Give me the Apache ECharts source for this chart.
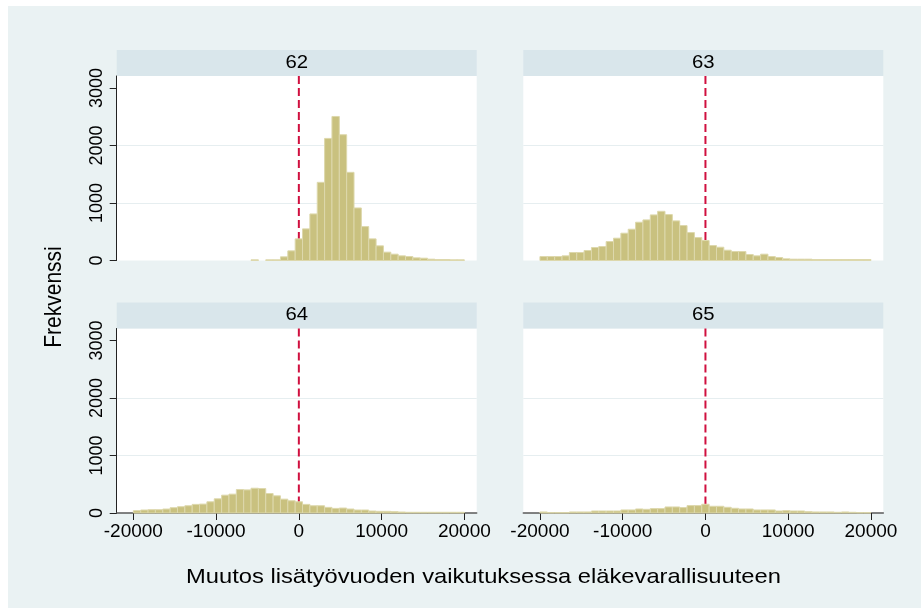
<!DOCTYPE html>
<html>
<head>
<meta charset="utf-8">
<script src="https://cdn.jsdelivr.net/npm/echarts@6/dist/echarts.min.js"></script>
<style>
html,body{margin:0;padding:0;background:#ffffff;}
#chart{width:921px;height:608px;}
</style>
</head>
<body>
<div id="chart"></div>
<script>
// ---- Data ----
const panelTitles = ['62', '63', '64', '65'];
const binStart = -20000;
const binWidth = 40000 / 45;
const xTicks = [-20000, -10000, 0, 10000, 20000];
const yTicks = [0, 1000, 2000, 3000];
const refLineX = 0;

const freq62 = [0,0,0,0,0,0,0,0,0,0,0,0,0,0,0,0,12,0,12,12,64,168,376,550,810,1360,2124,2506,2188,1534,914,590,376,255,145,110,81,69,46,40,23,17,17,12,12];
const freq63 = [69,69,69,81,139,139,174,226,243,330,388,475,544,666,706,793,856,799,689,608,486,399,347,260,231,179,156,156,104,81,110,69,52,29,23,23,23,17,17,17,17,17,17,17,17];
const freq64 = [40,52,57,57,69,92,109,126,150,155,195,247,310,328,408,402,431,425,339,299,241,213,195,150,126,126,98,80,86,69,52,52,34,29,29,23,17,12,12,12,12,12,12,12,12];
const freq65 = [18,6,6,6,18,18,18,35,35,35,35,53,53,70,64,76,76,105,105,94,129,129,152,117,117,99,82,70,70,53,53,53,35,41,35,35,23,18,18,18,12,18,12,6,6];
const allFreq = [freq62, freq63, freq64, freq65];

// ---- Layout / style ----
const FONT = "'Liberation Sans', Arial, sans-serif";
const X_MIN = -22012, X_MAX = 21492;
const Y_MAX = 3210;
const BG = '#EAF2F3';
const STRIP = '#D9E6EB';
const BAR_FILL = '#C9C17F';
const BAR_EDGE = '#DDD8AC';
const REF = '#D0103F';
const SX = 1.13;

const gridPos = [
  {left: 116.7, top: 76},
  {left: 523.3, top: 76},
  {left: 116.7, top: 328.5},
  {left: 523.3, top: 328.5}
];
const GW = 360, GH = 184.5;

const grids = [], xAxes = [], yAxes = [], series = [], graphics = [];

graphics.push({type: 'rect', shape: {x: 8, y: 6, width: 913, height: 602}, style: {fill: BG}, z: -10, silent: true});

gridPos.forEach((p, i) => {
  const isLeft = (i % 2 === 0);
  const isBottom = (i >= 2);
  grids.push({left: p.left, top: p.top, width: GW, height: GH, show: true, backgroundColor: '#ffffff', borderWidth: 0, containLabel: false});
  xAxes.push({
    type: 'value', gridIndex: i, min: X_MIN, max: X_MAX,
    show: isBottom,
    axisLine: {show: true, onZero: false, lineStyle: {color: '#5a5a5a', width: 1.5}},
    axisTick: {show: true, length: 7, lineStyle: {color: '#222', width: 1}, customValues: xTicks},
    axisLabel: {show: true, color: '#000', fontFamily: FONT, fontSize: 19, margin: 9, customValues: xTicks, formatter: v => String(v)},
    splitLine: {show: false}
  });
  yAxes.push({
    type: 'value', gridIndex: i, min: 0, max: Y_MAX, interval: 1000,
    axisLine: {show: isLeft, onZero: false, lineStyle: {color: '#222', width: 1}},
    axisTick: {show: isLeft, length: 7, inside: false, lineStyle: {color: '#222', width: 1}, customValues: yTicks},
    axisLabel: {show: isLeft, rotate: 90, color: '#000', fontFamily: FONT, fontSize: 18, margin: 11, customValues: yTicks, formatter: v => String(v)},
    splitLine: {show: true, showMinLine: false, showMaxLine: false, lineStyle: {color: '#E6EEF0', width: 1.2}}
  });
  // reference dashed line at x = 0 (behind bars)
  series.push({
    type: 'line', xAxisIndex: i, yAxisIndex: i, z: 2,
    data: [[refLineX, Y_MAX], [refLineX, 0]],
    symbol: 'none', silent: true,
    lineStyle: {color: REF, width: 2, type: [8, 4]}
  });
  const data = allFreq[i].map((v, k) => [binStart + k * binWidth, binStart + (k + 1) * binWidth, v]);
  series.push({
    type: 'custom', xAxisIndex: i, yAxisIndex: i, z: 3,
    encode: {x: [0, 1], y: 2},
    data: data,
    renderItem: function (params, api) {
      const v = api.value(2);
      if (v <= 0) return null;
      const p0 = api.coord([api.value(0), v]);
      const p1 = api.coord([api.value(1), 0]);
      return {
        type: 'rect',
        shape: {x: p0[0], y: p0[1], width: p1[0] - p0[0], height: p1[1] - p0[1]},
        style: {fill: BAR_FILL, stroke: BAR_EDGE, lineWidth: 1}
      };
    }
  });
  // strip header
  graphics.push({type: 'rect', shape: {x: p.left, y: p.top - 26, width: GW, height: 26}, style: {fill: STRIP}, silent: true});
  graphics.push({type: 'text', x: p.left + GW / 2, y: p.top - 13, scaleX: SX, style: {text: panelTitles[i], fill: '#000', font: '18px ' + FONT, textAlign: 'center', textVerticalAlign: 'middle'}, silent: true});
});

graphics.push({type: 'text', x: 483.5, y: 577, scaleX: SX, style: {text: 'Muutos lisätyövuoden vaikutuksessa eläkevarallisuuteen', fill: '#000', font: '21px ' + FONT, textAlign: 'center', textVerticalAlign: 'middle'}, silent: true});
graphics.push({type: 'text', x: 54, y: 297, rotation: Math.PI / 2, scaleY: SX, style: {text: 'Frekvenssi', fill: '#000', font: '21px ' + FONT, textAlign: 'center', textVerticalAlign: 'middle'}, silent: true});

const chart = echarts.init(document.getElementById('chart'), null, {renderer: 'canvas'});
chart.setOption({
  backgroundColor: '#ffffff',
  animation: false,
  grid: grids,
  xAxis: xAxes,
  yAxis: yAxes,
  series: series,
  graphic: graphics
});
</script>
</body>
</html>
